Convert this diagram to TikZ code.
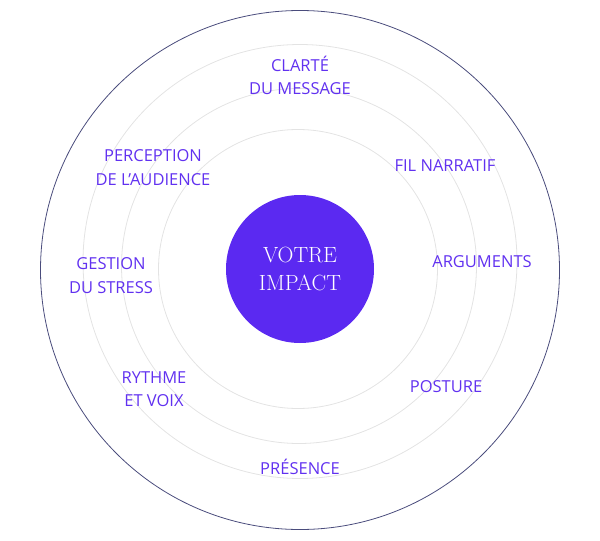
\documentclass[tikz,border=0pt]{standalone}
\usepackage{fontspec}
\setsansfont{Open Sans}
\usetikzlibrary{positioning}
\definecolor{violet}{HTML}{5B29F1}
\definecolor{violettext}{HTML}{6131F0}
\definecolor{ring}{HTML}{E3E3E3}
\definecolor{rim}{HTML}{4A4C7C}

\tikzset{
  ringline/.style={draw=ring, line width=0.8pt},
  topic/.style={font=\sffamily\fontsize{16.5}{23.5}\selectfont, text=violettext, align=center, inner sep=0pt},
}

\begin{document}
\begin{tikzpicture}[x=1pt, y=-1pt]
  \useasboundingbox (0,0) rectangle (600,541);
  % rings
  \draw[rim, line width=0.8pt] (300,270) circle (259.5);
  \draw[ringline] (300,261.5) circle (217);
  \draw[ringline] (299,266) circle (177.5);
  \draw[ringline] (298,269) circle (139.5);
  % core
  \node[circle, fill=violet, minimum size=148pt, inner sep=0pt, text=white,
        align=center, font=\fontsize{22}{28}\selectfont] (impact) at (300,269) {VOTRE\\IMPACT};
  % topics
  \node[topic] (clarte)     at (300,75.5)  {CLARTÉ\\DU MESSAGE};
  \node[topic] (perception) at (153,167.5) {PERCEPTION\\DE L’AUDIENCE};
  \node[topic] (narratif)   at (445,166)   {FIL NARRATIF};
  \node[topic] (gestion)    at (111,275.5) {GESTION\\DU STRESS};
  \node[topic] (arguments)  at (482,262)   {ARGUMENTS};
  \node[topic] (rythme)     at (154,389)   {RYTHME\\ET VOIX};
  \node[topic] (posture)    at (446,387)   {POSTURE};
  \node[topic] (presence)   at (300,467)   {PRÉSENCE};
\end{tikzpicture}
\end{document}
